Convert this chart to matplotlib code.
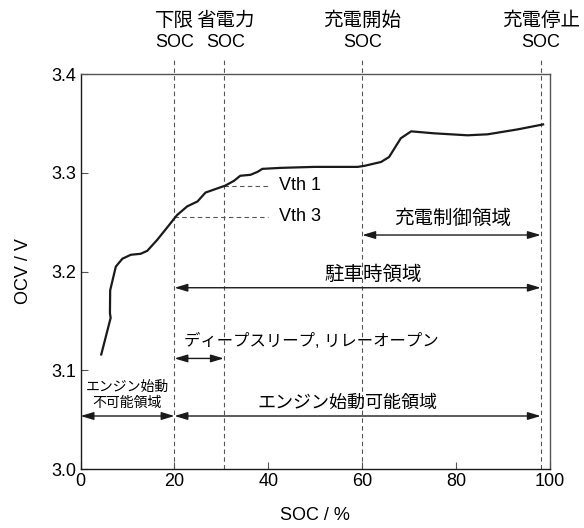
import matplotlib
matplotlib.use("Agg")
import matplotlib.pyplot as plt

plt.rcParams['font.family'] = ['Liberation Sans', 'Noto Sans CJK JP']
plt.rcParams['font.size'] = 13

# OCV curve (SOC %, OCV V)
soc = [4.4, 6.4, 6.25, 6.3, 7.5, 8.9, 10.7, 12.8, 14.2, 16.3, 18.5, 20.5, 22.7, 24.9,
       26.6, 28.4, 30.8, 32.7, 34.0, 36.2, 37.7, 38.7, 42.6, 49.8, 59.0, 60.4, 64.0,
       65.7, 68.2, 70.4, 75.3, 82.4, 86.7, 93.1, 98.5]
ocv = [3.116, 3.153, 3.158, 3.181, 3.205, 3.213, 3.217, 3.218, 3.221, 3.232, 3.245,
       3.257, 3.266, 3.271, 3.280, 3.283, 3.287, 3.292, 3.297, 3.298, 3.301, 3.304,
       3.305, 3.306, 3.306, 3.307, 3.311, 3.316, 3.335, 3.342, 3.340, 3.338, 3.339,
       3.344, 3.349]

# characteristic SOC levels
soc_marks = [20, 30.5, 60, 98]
soc_mark_labels = ['下限\nSOC', '省電力\nSOC', '充電開始\nSOC', '充電停止\nSOC']
soc_label_x = [20, 30.9, 60, 98]

# threshold voltages
vth_names = ['Vth 1', 'Vth 3']
vth_soc = [30.5, 20]
vth_vals = [3.287, 3.2555]

jp = 14  # size for the Japanese annotations

fig = plt.figure(figsize=(5.84, 5.28), dpi=100)
ax = fig.add_axes([0.138, 0.1117, 0.804, 0.748])

grey = '#555555'
for s in soc_marks:
    ax.axvline(s, ymin=0, ymax=1.043, color=grey, lw=0.8, ls=(0, (4, 3)), clip_on=False)
for x, lab in zip(soc_label_x, soc_mark_labels):
    top, bottom = lab.split('\n')
    ax.text(x, 3.423, bottom, ha='center', va='bottom')
    ax.text(x, 3.445, top, ha='center', va='bottom', fontsize=jp)

for name, s, v in zip(vth_names, vth_soc, vth_vals):
    ax.plot([s, 40], [v, v], color=grey, lw=0.8, ls=(0, (4, 3)))
    ax.text(42.2, v, name, ha='left', va='center')

ax.plot(soc, ocv, color='#1a1a1a', lw=1.6)

arrow = dict(arrowstyle='<|-|>,head_length=0.6,head_width=0.18', color='#1a1a1a',
             lw=1.0, shrinkA=0, shrinkB=0)

def span(x0, x1, y):
    ax.annotate('', xy=(x1, y), xytext=(x0, y), arrowprops=arrow)

span(60, 98, 3.237)
ax.text(79.2, 3.244, '充電制御領域', ha='center', va='bottom', fontsize=jp)
span(20, 98, 3.1836)
ax.text(62.3, 3.1965, '駐車時領域', ha='center', va='center', fontsize=jp)
span(20, 30.5, 3.112)
ax.text(22, 3.130, 'ディープスリープ, リレーオープン', ha='left', va='center', fontsize=11.8)
span(0, 20, 3.0537)
span(20, 98, 3.0537)
ax.text(9.9, 3.075, 'エンジン始動\n不可能領域', ha='center', va='center',
        fontsize=10, linespacing=1.2)
ax.text(56.8, 3.067, 'エンジン始動可能領域', ha='center', va='center', fontsize=13)

ax.set_xlim(0, 100)
ax.set_ylim(3.0, 3.4)
ax.set_xticks([0, 20, 40, 60, 80, 100])
ax.set_yticks([3.0, 3.1, 3.2, 3.3, 3.4])
ax.set_yticklabels(['3.0', '3.1', '3.2', '3.3', '3.4'])
ax.tick_params(direction='in', length=5, width=0.8, color=grey, pad=3)
for sp in ax.spines.values():
    sp.set_color(grey)
    sp.set_linewidth(1.0)
ax.spines['left'].set_color('#1a1a1a')
ax.spines['bottom'].set_color('#1a1a1a')
ax.set_xlabel('SOC / %', labelpad=12)
ax.set_ylabel('OCV / V', labelpad=14)

fig.savefig('out.png', dpi=100)
